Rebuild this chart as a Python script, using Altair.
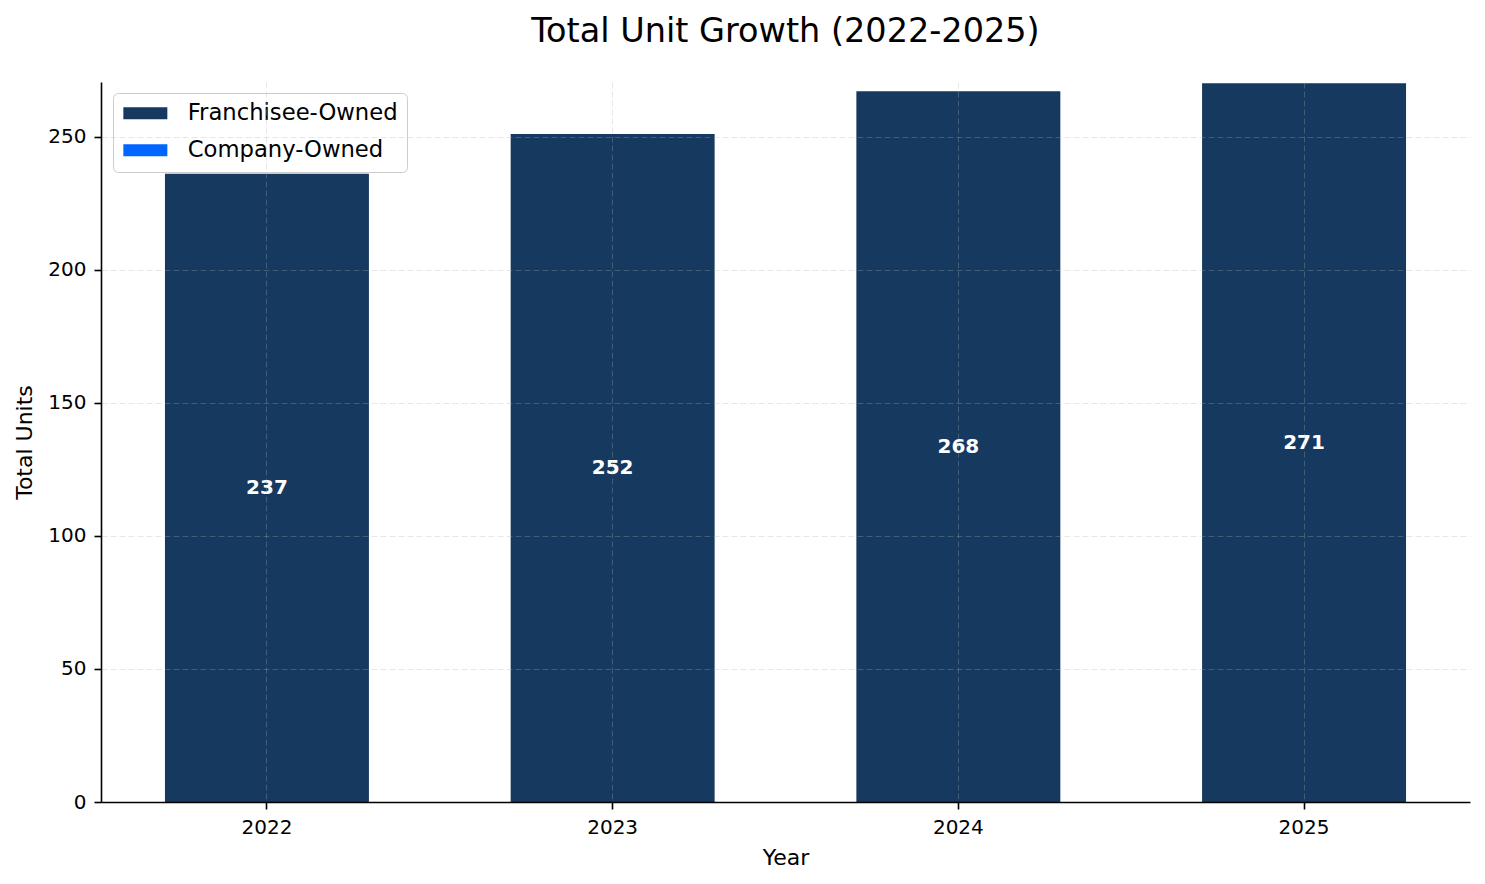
import altair as alt
import pandas as pd

years = ["2022", "2023", "2024", "2025"]
franchisee_owned = [236, 251, 267, 270]
company_owned = [0, 0, 0, 0]
total_labels = [237, 252, 268, 271]
series = ["Franchisee-Owned", "Company-Owned"]
colors = ["#15395f", "#0066ff"]

rows = []
for i, yr in enumerate(years):
    rows.append({"Year": yr, "Owner": series[0], "Units": franchisee_owned[i], "ord": 0})
    rows.append({"Year": yr, "Owner": series[1], "Units": company_owned[i], "ord": 1})
bars_df = pd.DataFrame(rows)
labels_df = pd.DataFrame({"Year": years, "Franchisee": franchisee_owned, "Total": total_labels})

FONT = "DejaVu Sans"

x_enc = alt.X(
    "Year:N",
    title="Year",
    sort=years,
    scale=alt.Scale(paddingInner=0.41, paddingOuter=0.185),
    axis=alt.Axis(labelAngle=0, bandPosition=0.5, grid=True, zindex=1),
)
y_scale = alt.Scale(domain=[0, 270.5], nice=False, zero=True)

bars = alt.Chart(bars_df).mark_bar().encode(
    x=x_enc,
    y=alt.Y("Units:Q", stack="zero", title="Total Units", scale=y_scale,
            axis=alt.Axis(values=[0, 50, 100, 150, 200, 250], zindex=1)),
    color=alt.Color("Owner:N", scale=alt.Scale(domain=series, range=colors),
                    legend=alt.Legend(title=None)),
    order=alt.Order("ord:Q"),
)

text = alt.Chart(labels_df).transform_calculate(
    mid="datum.Franchisee / 2"
).mark_text(color="white", fontWeight="bold", fontSize=20, font=FONT, baseline="middle").encode(
    x=x_enc,
    y=alt.Y("mid:Q", title="Total Units", scale=y_scale),
    text=alt.Text("Total:Q"),
)

chart = alt.layer(bars, text).properties(
    width=1369,
    height=720,
    autosize=alt.AutoSizeParams(type="none"),
    padding={"left": 93, "top": 74, "right": 7, "bottom": 74},
    title=alt.TitleParams(
        "Total Unit Growth (2022-2025)", fontSize=33.5, font=FONT, fontWeight="normal",
        color="black", anchor="middle", offset=33,
    ),
).configure_view(stroke=None).configure_axis(
    labelFont=FONT, labelFontSize=20, labelColor="black",
    titleFont=FONT, titleFontSize=22, titleFontWeight="normal", titleColor="black",
    domainColor="black", domainWidth=1.6, tickColor="black", tickWidth=1.6, tickSize=7,
    labelPadding=8, gridColor="#b0b0b0", gridOpacity=0.3, gridDash=[6, 3], gridWidth=1,
).configure_axisX(titlePadding=10).configure_axisY(titlePadding=11).configure_legend(
    orient="none", legendX=12, legendY=11, fillColor="white", strokeColor="#cccccc",
    cornerRadius=5, padding=9, labelFont=FONT, labelFontSize=22.7, labelColor="black",
    labelLimit=400,
    symbolType="M-3.667,-1L3.667,-1L3.667,1L-3.667,1Z", symbolSize=144,
    symbolOffset=12, symbolStrokeWidth=0, symbolOpacity=1, labelOffset=31, rowPadding=13,
)

chart.save("out.html", embed_options={"renderer": "svg", "actions": False})
